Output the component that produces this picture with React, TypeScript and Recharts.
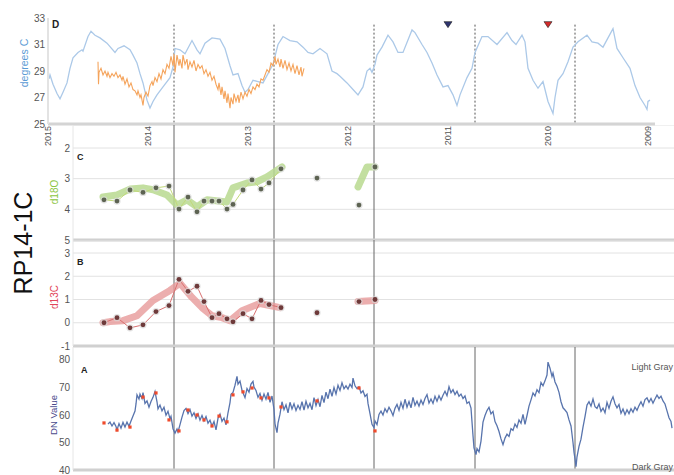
import React from 'react';
import { ComposedChart, Line, Scatter, XAxis, YAxis, CartesianGrid, ReferenceLine } from 'recharts';

const FONT = 'Liberation Sans, Arial, Helvetica, sans-serif';

const yearTicks = [2015, 2014, 2013, 2012, 2011, 2010, 2009];
const seasonBreaks = [2013.74, 2012.74, 2011.74, 2010.73, 2009.73];
const markerYears = [2011.0, 2010.0];
const markerFills = ['#2e3470', '#d42a2a'];

// panel D: satellite SST (blue) and shell-derived temperature (orange)
const satTemp: [number, number][] = [
  [2014.99, 28.4], [2014.98, 28.7], [2014.95, 28.0], [2014.91, 27.3], [2014.88, 26.9], [2014.85, 27.4],
  [2014.81, 28.1], [2014.78, 29.2], [2014.75, 30.0], [2014.7, 30.4], [2014.66, 30.6], [2014.65, 30.5],
  [2014.6, 31.6], [2014.57, 32.0], [2014.53, 31.7], [2014.48, 31.5], [2014.41, 31.1], [2014.33, 30.4],
  [2014.3, 30.7], [2014.24, 30.9], [2014.18, 30.6], [2014.15, 30.2], [2014.11, 29.6], [2014.08, 28.8],
  [2014.05, 28.1], [2014.01, 26.8], [2013.98, 26.2], [2013.95, 26.7], [2013.91, 27.2], [2013.85, 27.8],
  [2013.78, 28.5], [2013.75, 29.3], [2013.73, 30.7], [2013.68, 30.6], [2013.63, 30.3], [2013.56, 31.3],
  [2013.51, 30.6], [2013.48, 30.3], [2013.43, 31.1], [2013.36, 31.5], [2013.28, 31.4], [2013.23, 30.7],
  [2013.18, 29.4], [2013.15, 28.7], [2013.1, 28.8], [2013.06, 27.9], [2013.03, 27.4], [2013.0, 27.6],
  [2012.95, 28.3], [2012.9, 28.2], [2012.85, 28.1], [2012.8, 28.8], [2012.75, 29.5], [2012.7, 31.0],
  [2012.65, 31.6], [2012.58, 31.3], [2012.51, 31.2], [2012.45, 30.8], [2012.4, 30.4], [2012.35, 30.3],
  [2012.28, 30.7], [2012.21, 30.3], [2012.16, 29.0], [2012.11, 28.8], [2012.08, 28.6], [2012.01, 28.1],
  [2011.95, 27.6], [2011.9, 27.2], [2011.85, 27.8], [2011.81, 29.0], [2011.78, 29.2], [2011.76, 28.9],
  [2011.73, 29.5], [2011.71, 30.2], [2011.66, 30.8], [2011.6, 31.7], [2011.55, 31.2], [2011.5, 30.4],
  [2011.45, 30.4], [2011.36, 32.1], [2011.33, 31.9], [2011.26, 31.0], [2011.21, 30.4], [2011.16, 29.6],
  [2011.11, 28.7], [2011.05, 27.8], [2011.0, 27.9], [2010.95, 27.2], [2010.91, 26.4], [2010.88, 27.2],
  [2010.81, 28.5], [2010.76, 29.2], [2010.73, 30.4], [2010.66, 31.6], [2010.6, 31.6], [2010.51, 31.0],
  [2010.41, 31.9], [2010.36, 31.3], [2010.32, 31.0], [2010.26, 31.7], [2010.23, 31.2], [2010.2, 29.2],
  [2010.15, 28.3], [2010.1, 27.7], [2010.05, 28.2], [2010.0, 26.7], [2009.95, 25.8], [2009.93, 27.0],
  [2009.9, 28.3], [2009.85, 28.8], [2009.8, 29.7], [2009.75, 30.8], [2009.7, 31.2], [2009.61, 31.7],
  [2009.56, 31.2], [2009.5, 31.1], [2009.45, 30.8], [2009.4, 31.5], [2009.35, 32.2], [2009.31, 30.7],
  [2009.25, 30.0], [2009.18, 29.2], [2009.13, 27.9], [2009.08, 27.0], [2009.03, 26.4], [2009.01, 26.1],
  [2009.0, 26.7], [2008.98, 26.8],
];

const shellTemp: [number, number][] = [
  [2014.5, 29.7], [2014.495, 28.0], [2014.49, 28.9], [2014.47, 29.2], [2014.45, 28.7], [2014.43, 29.0],
  [2014.41, 28.6], [2014.4, 28.9], [2014.38, 28.5], [2014.36, 28.8], [2014.34, 28.6], [2014.32, 28.9],
  [2014.3, 28.5], [2014.28, 28.7], [2014.26, 28.3], [2014.25, 28.6], [2014.23, 28.0], [2014.21, 28.4],
  [2014.19, 27.8], [2014.17, 28.1], [2014.15, 27.6], [2014.13, 27.5], [2014.11, 27.2], [2014.1, 27.5],
  [2014.08, 27.0], [2014.07, 27.2], [2014.05, 26.4], [2014.04, 27.0], [2014.02, 27.4], [2014.0, 27.1],
  [2013.98, 27.9], [2013.96, 28.2], [2013.95, 27.9], [2013.93, 28.5], [2013.91, 28.2], [2013.89, 28.8],
  [2013.87, 28.4], [2013.85, 29.1], [2013.83, 28.8], [2013.81, 29.5], [2013.79, 29.2], [2013.77, 30.1],
  [2013.75, 29.4], [2013.74, 30.3], [2013.73, 28.9], [2013.71, 30.2], [2013.69, 29.4], [2013.68, 29.9],
  [2013.66, 29.2], [2013.65, 30.2], [2013.63, 29.5], [2013.61, 29.9], [2013.6, 29.1], [2013.58, 29.7],
  [2013.56, 29.3], [2013.54, 29.8], [2013.52, 29.0], [2013.5, 29.5], [2013.48, 29.2], [2013.46, 29.4],
  [2013.44, 28.8], [2013.42, 29.1], [2013.4, 28.6], [2013.38, 28.9], [2013.36, 28.3], [2013.34, 28.6],
  [2013.32, 28.0], [2013.3, 27.6], [2013.29, 28.1], [2013.27, 27.2], [2013.26, 27.8], [2013.24, 26.9],
  [2013.23, 27.5], [2013.21, 26.6], [2013.2, 27.3], [2013.18, 26.2], [2013.17, 27.0], [2013.15, 26.5],
  [2013.14, 27.3], [2013.12, 26.7], [2013.1, 27.2], [2013.09, 26.6], [2013.07, 27.4], [2013.05, 26.9],
  [2013.03, 27.4], [2013.01, 27.1], [2012.99, 27.6], [2012.97, 27.3], [2012.95, 27.8], [2012.93, 27.6],
  [2012.91, 28.0], [2012.89, 27.8], [2012.87, 28.4], [2012.85, 28.3], [2012.83, 28.7], [2012.81, 29.1],
  [2012.79, 28.9], [2012.77, 29.6], [2012.75, 29.4], [2012.73, 30.1], [2012.72, 29.5], [2012.7, 29.9],
  [2012.68, 29.3], [2012.67, 29.9], [2012.65, 29.2], [2012.63, 29.8], [2012.61, 29.1], [2012.59, 29.6],
  [2012.57, 29.0], [2012.55, 29.5], [2012.53, 28.8], [2012.51, 29.4], [2012.49, 28.7], [2012.47, 29.3],
  [2012.46, 28.6], [2012.44, 29.2],
];

// shell samples (panels C, B, A)
const sampleYears = [
  2014.44, 2014.31, 2014.18, 2014.05, 2013.92, 2013.79, 2013.69, 2013.6, 2013.51, 2013.44, 2013.36,
  2013.29, 2013.21, 2013.15, 2013.05, 2012.96, 2012.87, 2012.79, 2012.67, 2012.31, 2011.89, 2011.73,
];
const connectedCount = 19;

const d18O = [3.69, 3.73, 3.37, 3.45, 3.3, 3.24, 3.99, 3.6, 4.08, 3.73, 3.73, 3.73, 3.99, 3.84, 3.37, 3.04, 3.34, 3.14, 2.68, 2.98, 3.86, 2.62];
const d18OSmooth: [number, number | null][] = [
  [2014.45, 3.6], [2014.31, 3.53], [2014.18, 3.34], [2014.05, 3.3], [2013.95, 3.36], [2013.81, 3.53],
  [2013.71, 3.86], [2013.61, 3.69], [2013.51, 3.92], [2013.41, 3.69], [2013.21, 3.76], [2013.15, 3.3],
  [2013.01, 3.14], [2012.91, 3.1], [2012.81, 2.94], [2012.66, 2.62], [2012.3, null],
  [2011.9, 3.27], [2011.81, 2.62], [2011.73, 2.62],
];

const d13C = [0.0, 0.22, -0.22, -0.09, 0.48, 0.74, 1.87, 1.35, 1.57, 0.91, 0.22, 0.39, 0.17, 0.04, 0.39, 0.17, 0.96, 0.78, 0.65, 0.43, 0.91, 1.0];
const d13CSmooth: [number, number | null][] = [
  [2014.45, 0.0], [2014.38, 0.05], [2014.25, 0.09], [2014.11, 0.3], [2013.95, 0.96], [2013.78, 1.39],
  [2013.68, 1.7], [2013.56, 1.09], [2013.45, 0.61], [2013.36, 0.3], [2013.26, 0.22], [2013.18, 0.09],
  [2013.06, 0.52], [2012.88, 0.83], [2012.68, 0.65], [2012.3, null],
  [2011.9, 0.91], [2011.73, 0.96],
];

// panel A: DN value
const dnValue: [number, number][] = [
  [2014.4, 56.7], [2014.38, 57.4], [2014.36, 56.0], [2014.34, 57.2], [2014.32, 55.8], [2014.31, 54.6],
  [2014.29, 56.9], [2014.27, 55.2], [2014.25, 57.3], [2014.23, 55.6], [2014.21, 57.4], [2014.19, 55.9],
  [2014.17, 57.8], [2014.15, 59.6], [2014.13, 61.4], [2014.12, 64.0], [2014.11, 67.3], [2014.09, 65.8],
  [2014.08, 67.6], [2014.06, 66.0], [2014.05, 68.1], [2014.03, 64.2], [2014.01, 65.1], [2013.99, 62.8],
  [2013.97, 64.9], [2013.95, 66.4], [2013.93, 68.5], [2013.91, 64.8], [2013.9, 62.2], [2013.88, 63.6],
  [2013.86, 61.5], [2013.84, 62.8], [2013.82, 59.9], [2013.8, 61.3], [2013.78, 58.6], [2013.77, 59.5],
  [2013.75, 55.0], [2013.73, 53.4], [2013.71, 54.9], [2013.7, 53.8], [2013.68, 56.5], [2013.66, 59.2],
  [2013.64, 61.6], [2013.62, 62.4], [2013.6, 60.5], [2013.58, 62.0], [2013.56, 59.6], [2013.54, 60.8],
  [2013.52, 58.7], [2013.5, 60.4], [2013.48, 58.1], [2013.46, 59.8], [2013.44, 57.9], [2013.42, 59.4],
  [2013.4, 57.0], [2013.38, 58.1], [2013.36, 56.0], [2013.34, 57.6], [2013.32, 54.6], [2013.3, 58.8],
  [2013.28, 60.3], [2013.26, 57.7], [2013.24, 58.9], [2013.22, 56.4], [2013.2, 60.8], [2013.18, 64.5],
  [2013.17, 67.5], [2013.15, 68.2], [2013.13, 70.8], [2013.11, 74.0], [2013.1, 71.2], [2013.08, 72.3],
  [2013.06, 69.0], [2013.04, 67.2], [2013.03, 66.3], [2013.01, 69.6], [2012.99, 68.3], [2012.97, 71.2],
  [2012.95, 72.2], [2012.94, 70.1], [2012.92, 68.9], [2012.9, 66.4], [2012.88, 67.8], [2012.86, 65.3],
  [2012.84, 67.6], [2012.82, 65.7], [2012.8, 68.2], [2012.78, 64.6], [2012.76, 66.9], [2012.74, 62.0],
  [2012.73, 56.8], [2012.71, 53.6], [2012.7, 57.0], [2012.68, 60.3], [2012.66, 64.8], [2012.64, 61.9],
  [2012.62, 63.7], [2012.6, 60.8], [2012.58, 64.6], [2012.56, 62.2], [2012.54, 64.1], [2012.52, 61.6],
  [2012.5, 63.5], [2012.48, 62.0], [2012.46, 64.8], [2012.44, 61.8], [2012.42, 65.0], [2012.4, 62.6],
  [2012.38, 64.2], [2012.36, 61.9], [2012.34, 66.3], [2012.32, 63.4], [2012.3, 65.6], [2012.28, 63.0],
  [2012.26, 67.1], [2012.24, 64.5], [2012.22, 68.3], [2012.2, 65.9], [2012.18, 69.4], [2012.16, 66.8],
  [2012.14, 70.0], [2012.12, 67.6], [2012.1, 70.8], [2012.08, 68.9], [2012.06, 71.7], [2012.04, 69.5],
  [2012.02, 70.6], [2012.0, 69.4], [2011.98, 71.2], [2011.96, 70.0], [2011.95, 73.4], [2011.93, 70.6],
  [2011.91, 69.6], [2011.89, 70.2], [2011.87, 68.0], [2011.85, 68.8], [2011.83, 66.7], [2011.81, 67.5],
  [2011.8, 64.2], [2011.78, 60.5], [2011.76, 56.6], [2011.74, 55.4], [2011.73, 57.8], [2011.71, 56.5],
  [2011.69, 60.2], [2011.67, 61.4], [2011.65, 60.0], [2011.63, 62.3], [2011.61, 61.0], [2011.59, 62.8],
  [2011.57, 61.5], [2011.55, 59.8], [2011.53, 62.4], [2011.51, 63.8], [2011.49, 61.7], [2011.47, 64.6],
  [2011.45, 62.4], [2011.43, 65.7], [2011.41, 62.8], [2011.39, 64.9], [2011.37, 62.6], [2011.35, 66.4],
  [2011.33, 63.5], [2011.31, 65.0], [2011.29, 63.2], [2011.27, 65.4], [2011.25, 63.8], [2011.23, 66.0],
  [2011.21, 67.4], [2011.19, 64.3], [2011.17, 65.8], [2011.15, 64.2], [2011.13, 66.8], [2011.11, 65.0],
  [2011.09, 67.0], [2011.07, 65.4], [2011.05, 67.2], [2011.03, 68.6], [2011.01, 67.0], [2010.99, 70.3],
  [2010.97, 68.1], [2010.95, 69.2], [2010.93, 67.4], [2010.91, 68.6], [2010.89, 66.8], [2010.87, 67.6],
  [2010.85, 66.0], [2010.83, 66.9], [2010.81, 64.2], [2010.79, 64.8], [2010.77, 62.5], [2010.75, 52.5],
  [2010.74, 48.0], [2010.72, 45.6], [2010.71, 47.8], [2010.69, 46.6], [2010.67, 50.5], [2010.65, 57.4],
  [2010.63, 59.8], [2010.61, 61.6], [2010.59, 62.8], [2010.57, 60.4], [2010.55, 61.3], [2010.53, 57.6],
  [2010.51, 56.1], [2010.49, 54.0], [2010.47, 51.3], [2010.45, 49.2], [2010.43, 51.6], [2010.41, 53.0],
  [2010.39, 52.2], [2010.37, 55.0], [2010.35, 54.4], [2010.33, 56.7], [2010.31, 55.5], [2010.29, 58.2],
  [2010.27, 57.0], [2010.25, 60.2], [2010.23, 56.6], [2010.21, 59.8], [2010.19, 63.2], [2010.17, 65.5],
  [2010.15, 68.0], [2010.13, 66.9], [2010.11, 69.2], [2010.09, 68.1], [2010.07, 71.8], [2010.05, 70.6],
  [2010.03, 72.4], [2010.01, 74.5], [2010.0, 79.2], [2009.98, 77.0], [2009.96, 74.0], [2009.95, 75.2],
  [2009.93, 72.0], [2009.91, 70.4], [2009.89, 68.2], [2009.87, 64.8], [2009.85, 62.6], [2009.83, 61.8],
  [2009.81, 60.9], [2009.79, 58.2], [2009.77, 56.0], [2009.75, 50.0], [2009.74, 46.5], [2009.73, 44.0],
  [2009.72, 41.2], [2009.71, 44.8], [2009.69, 48.6], [2009.67, 51.2], [2009.65, 55.6], [2009.63, 59.4],
  [2009.61, 63.6], [2009.59, 64.8], [2009.57, 63.2], [2009.55, 65.8], [2009.53, 63.0], [2009.51, 62.4],
  [2009.49, 64.0], [2009.47, 61.3], [2009.45, 62.5], [2009.43, 60.8], [2009.41, 64.6], [2009.39, 62.4],
  [2009.37, 65.0], [2009.35, 66.6], [2009.33, 64.1], [2009.31, 62.6], [2009.29, 63.8], [2009.27, 60.6],
  [2009.25, 62.2], [2009.23, 60.1], [2009.21, 61.9], [2009.19, 60.5], [2009.17, 62.3], [2009.15, 61.0],
  [2009.13, 62.8], [2009.11, 61.7], [2009.09, 63.4], [2009.07, 64.8], [2009.05, 63.2], [2009.03, 65.6],
  [2009.01, 66.2], [2008.99, 64.6], [2008.97, 66.0], [2008.95, 64.3], [2008.93, 65.8], [2008.91, 67.2],
  [2008.89, 66.0], [2008.87, 66.8], [2008.85, 65.1], [2008.83, 64.0], [2008.81, 61.5], [2008.79, 59.0],
  [2008.77, 57.6], [2008.76, 55.2],
];
const dnSamples = [57.1, 54.5, 55.6, 66.5, 68.0, 58.2, 54.2, 61.8, 60.0, 58.2, 56.0, 59.6, 57.5, 67.3, 68.4, 69.8, 66.2, 66.2, 62.9, 65.1, 69.8, 54.2];

type Row = { year: number; v: number | null };
const rows = (pts: [number, number | null][]): Row[] => pts.map(([year, v]) => ({ year, v }));
const sampleRows = (vals: number[]): Row[] => sampleYears.map((year, i) => ({ year, v: vals[i] }));

const tickStyle = { fontSize: 10, fill: '#555', fontFamily: FONT };

const YearTick = (props: any) => {
  const { x, y, payload } = props;
  const bx = x + 3;
  const by = y - 6;
  return (
    <text x={bx} y={by} transform={`rotate(-90 ${bx} ${by})`} textAnchor="end" fontSize={9} fill="#555" fontFamily={FONT}>
      {payload.value}
    </text>
  );
};

const makeDot = (fill: string) => (props: any) => {
  const { cx, cy, index } = props;
  if (cx == null || cy == null) return <g key={index} />;
  return <circle key={index} cx={cx} cy={cy} r={2.4} fill={fill} stroke="rgba(215,215,215,0.7)" strokeWidth={2.5} paintOrder="stroke" />;
};

const RedSquare = (props: any) => {
  const { cx, cy } = props;
  return <rect x={cx - 1.6} y={cy - 1.6} width={3.2} height={3.2} fill="#ef4a2b" />;
};

const makeTriangle = (fill: string) => (props: any) => {
  const { cx, cy } = props;
  return <path d={`M${cx - 4},${cy - 3} L${cx + 4},${cy - 3} L${cx},${cy + 3} Z`} fill={fill} stroke="#222" strokeWidth={0.6} />;
};

const lowerX = (h: number) => (
  <XAxis
    type="number"
    dataKey="year"
    domain={[2008.74, 2014.75]}
    reversed
    allowDataOverflow
    height={h}
    tick={false}
    tickLine={false}
    axisLine={{ stroke: '#d0d0d0', strokeWidth: 3 }}
  />
);

function PanelD() {
  return (
    <ComposedChart width={674} height={150} margin={{ top: 18, right: 19, bottom: 0, left: 0 }}>
      <XAxis
        type="number"
        dataKey="year"
        domain={[2008.93, 2015]}
        reversed
        allowDataOverflow
        ticks={yearTicks}
        interval={0}
        height={26}
        tickLine={false}
        axisLine={{ stroke: '#d4d4d4', strokeWidth: 3 }}
        tick={<YearTick />}
      />
      <YAxis
        type="number"
        dataKey="v"
        domain={[25, 33]}
        ticks={[25, 27, 29, 31, 33]}
        interval={0}
        allowDataOverflow
        width={48}
        tickLine={false}
        tickSize={1}
        axisLine={{ stroke: '#e3e3e3', strokeWidth: 2 }}
        tick={tickStyle}
      />
      {seasonBreaks.map((y) => (
        <ReferenceLine key={y} segment={[{ x: y, y: 32.5 }, { x: y, y: 25 }]} stroke="#555" strokeDasharray="2 2" />
      ))}
      <Line data={rows(satTemp)} dataKey="v" stroke="#acc9e8" strokeWidth={1.3} dot={false} isAnimationActive={false} />
      <Line data={rows(shellTemp)} dataKey="v" stroke="#f5a45c" strokeWidth={1.1} dot={false} isAnimationActive={false} />
      {markerYears.map((year, i) => (
        <Scatter key={year} data={[{ year, v: 32.5 }]} dataKey="v" shape={makeTriangle(markerFills[i])} isAnimationActive={false} />
      ))}
    </ComposedChart>
  );
}

function PanelC() {
  return (
    <ComposedChart width={674} height={124} margin={{ top: 0, right: 0, bottom: 0, left: 0 }}>
      <CartesianGrid vertical={false} stroke="#e2e2e2" />
      {lowerX(9)}
      <YAxis
        type="number"
        dataKey="v"
        domain={[1.25, 5]}
        reversed
        ticks={[2, 3, 4, 5]}
        interval={0}
        allowDataOverflow
        width={73}
        tickLine={false}
        tickSize={1}
        axisLine={{ stroke: '#e6e6e6' }}
        tick={tickStyle}
      />
      {seasonBreaks.slice(0, 3).map((y) => (
        <ReferenceLine key={y} x={y} stroke="#666" />
      ))}
      <Line data={rows(d18OSmooth)} dataKey="v" stroke="#b9d98f" strokeOpacity={0.85} strokeWidth={7} strokeLinejoin="round" strokeLinecap="round" dot={false} isAnimationActive={false} />
      <Line data={sampleRows(d18O).slice(0, connectedCount)} dataKey="v" stroke="#c2d97a" strokeWidth={1} dot={makeDot('#5d6352')} isAnimationActive={false} />
      <Scatter data={sampleRows(d18O).slice(connectedCount)} dataKey="v" shape={makeDot('#5d6352')} isAnimationActive={false} />
    </ComposedChart>
  );
}

function PanelB() {
  return (
    <ComposedChart width={674} height={115} margin={{ top: 0, right: 0, bottom: 0, left: 0 }}>
      <CartesianGrid vertical={false} stroke="#e2e2e2" />
      {lowerX(9)}
      <YAxis
        type="number"
        dataKey="v"
        domain={[-1, 3.56]}
        ticks={[-1, 0, 1, 2, 3]}
        interval={0}
        allowDataOverflow
        width={73}
        tickLine={false}
        tickSize={1}
        axisLine={{ stroke: '#e6e6e6' }}
        tick={tickStyle}
      />
      {seasonBreaks.slice(0, 3).map((y) => (
        <ReferenceLine key={y} x={y} stroke="#666" />
      ))}
      <Line data={rows(d13CSmooth)} dataKey="v" stroke="#e79a9a" strokeOpacity={0.8} strokeWidth={7} strokeLinejoin="round" strokeLinecap="round" dot={false} isAnimationActive={false} />
      <Line data={sampleRows(d13C).slice(0, connectedCount)} dataKey="v" stroke="#d97070" strokeWidth={1} dot={makeDot('#6e3a3a')} isAnimationActive={false} />
      <Scatter data={sampleRows(d13C).slice(connectedCount)} dataKey="v" shape={makeDot('#6e3a3a')} isAnimationActive={false} />
    </ComposedChart>
  );
}

function PanelA() {
  return (
    <ComposedChart width={674} height={128} margin={{ top: 0, right: 0, bottom: 0, left: 0 }}>
      {lowerX(5)}
      <YAxis
        type="number"
        dataKey="v"
        domain={[40, 84.7]}
        ticks={[40, 50, 60, 70, 80]}
        interval={0}
        allowDataOverflow
        width={73}
        tickLine={false}
        tickSize={1}
        axisLine={{ stroke: '#e6e6e6' }}
        tick={tickStyle}
      />
      {seasonBreaks.map((y) => (
        <ReferenceLine key={y} x={y} stroke="#666" />
      ))}
      <Line data={rows(dnValue)} dataKey="v" stroke="#5874ad" strokeWidth={1.3} dot={false} isAnimationActive={false} />
      <Scatter data={sampleRows(dnSamples)} dataKey="v" shape={<RedSquare />} isAnimationActive={false} />
    </ComposedChart>
  );
}

const vText = (x: number, y: number, label: string, fill: string, size: number) => (
  <text x={x} y={y} transform={`rotate(-90 ${x} ${y})`} textAnchor="middle" fontSize={size} fill={fill} fontFamily={FONT}>
    {label}
  </text>
);

export default function App() {
  return (
    <div style={{ position: 'absolute', left: 0, top: 0, width: 674, height: 475, background: '#fff', fontFamily: FONT, overflow: 'hidden' }}>
      <div style={{ position: 'absolute', left: 0, top: 0 }}><PanelD /></div>
      <div style={{ position: 'absolute', left: 0, top: 125 }}><PanelC /></div>
      <div style={{ position: 'absolute', left: 0, top: 240 }}><PanelB /></div>
      <div style={{ position: 'absolute', left: 0, top: 347 }}><PanelA /></div>
      <svg width={674} height={475} style={{ position: 'absolute', left: 0, top: 0, pointerEvents: 'none' }}>
        <text x={52} y={28} fontSize={10} fontWeight="bold" fill="#222" fontFamily={FONT}>D</text>
        <text x={77} y={160} fontSize={9} fontWeight="bold" fill="#222" fontFamily={FONT}>C</text>
        <text x={77} y={265} fontSize={9} fontWeight="bold" fill="#222" fontFamily={FONT}>B</text>
        <text x={81} y={373} fontSize={9} fontWeight="bold" fill="#222" fontFamily={FONT}>A</text>
        <text x={673} y={370} fontSize={9} textAnchor="end" fill="#555" fontFamily={FONT}>Light Gray</text>
        <text x={673} y={470} fontSize={9} textAnchor="end" fill="#555" fontFamily={FONT}>Dark Gray</text>
        {vText(28, 63, 'degrees C', '#5b9bd5', 10.5)}
        {vText(58, 192, 'd18O', '#8cc63f', 10)}
        {vText(58, 297, 'd13C', '#e2455a', 10)}
        {vText(57, 415, 'DN Value', '#4a4a8c', 9.5)}
        {vText(32, 243, 'RP14-1C', '#111', 25)}
      </svg>
    </div>
  );
}
